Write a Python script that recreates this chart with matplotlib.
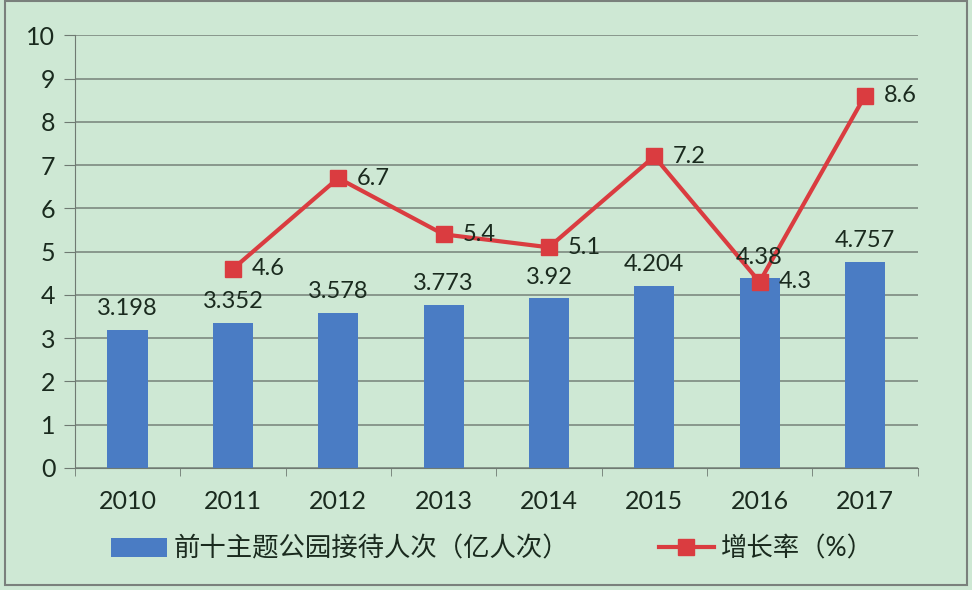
import matplotlib.pyplot as plt
import numpy as np

plt.rcParams['font.family'] = ['Lato', 'Noto Sans CJK SC', 'DejaVu Sans']

years = ['2010', '2011', '2012', '2013', '2014', '2015', '2016', '2017']
visitors = [3.198, 3.352, 3.578, 3.773, 3.92, 4.204, 4.38, 4.757]
growth_years = ['2011', '2012', '2013', '2014', '2015', '2016', '2017']
growth = [4.6, 6.7, 5.4, 5.1, 7.2, 4.3, 8.6]

bg = '#cee8d4'
bar_color = '#4a7cc4'
line_color = '#da3c40'
text_color = '#1a2a1e'

fig = plt.figure(figsize=(9.72, 5.9), dpi=100, facecolor=bg)
ax = fig.add_axes([0.077, 0.207, 0.867, 0.733])
ax.set_facecolor(bg)

x = np.arange(len(years))
gx = np.array([years.index(y) for y in growth_years])

bars = ax.bar(x, visitors, width=0.38, color=bar_color, zorder=2,
              label='前十主题公园接待人次（亿人次）')
line, = ax.plot(gx, growth, color=line_color, lw=3, marker='s', ms=12,
                zorder=3, label='增长率（%）')

for xi, v in zip(x, visitors):
    ax.text(xi, v + 0.25, f'{v:g}', ha='center', va='bottom',
            fontsize=17, color=text_color, zorder=4)
for xi, v in zip(gx, growth):
    ax.text(xi + 0.18, v, f'{v:g}', ha='left', va='center',
            fontsize=17, color=text_color, zorder=4)

ax.set_xlim(-0.5, len(years) - 0.5)
ax.set_ylim(0, 10)
ax.set_yticks(range(11))
ax.set_xticks(x)
ax.set_xticklabels(years)
ax.yaxis.grid(True, color='#7d8a80', lw=1.2, zorder=0)
ax.set_axisbelow(True)
for s in ['top', 'right']:
    ax.spines[s].set_visible(False)
ax.spines['left'].set_color('#6f7a72')
ax.spines['bottom'].set_color('#6f7a72')
ax.tick_params(axis='y', length=8, color='#6f7a72', labelsize=18,
               labelcolor=text_color, pad=6)
ax.tick_params(axis='x', length=0, labelsize=18, labelcolor=text_color, pad=16)
# category boundary ticks
ax.set_xticks(np.arange(-0.5, len(years)), minor=True)
ax.tick_params(axis='x', which='minor', length=6, color='#6f7a72')

fig.legend(handles=[bars, line], loc='lower left', bbox_to_anchor=(0.09, 0.008),
           ncol=2, frameon=False, fontsize=19, columnspacing=3.4,
           handlelength=2.1, handletextpad=0.25, labelcolor=text_color)

fig.patches.append(plt.Rectangle((0.005, 0.008), 0.99, 0.99, transform=fig.transFigure,
                                 fill=False, edgecolor='#7a807c', lw=1.5))

fig.savefig('out.png', dpi=100, facecolor=bg)
